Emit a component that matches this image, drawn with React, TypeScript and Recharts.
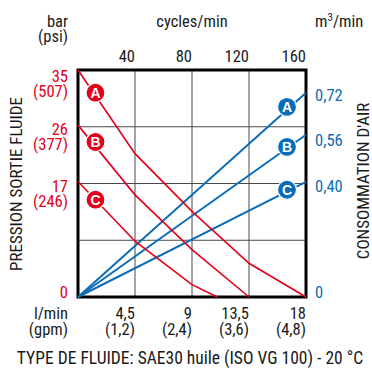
import React from "react";
import {
  LineChart,
  Line,
  XAxis,
  YAxis,
  CartesianGrid,
  ReferenceArea,
  ReferenceDot,
} from "recharts";

const RED = "#e2001a";
const BLUE = "#0b6db7";
const INK = "#1a1a1a";
const FONT = "'Liberation Sans Narrow', 'Arial Narrow', 'Roboto Condensed', sans-serif";

// bottom axis: l/min (gpm)
const flowTicks = [4.5, 9, 13.5, 18];
const flowLabels = ["4,5", "9", "13,5", "18"];
const gpmLabels = ["(1,2)", "(2,4)", "(3,6)", "(4,8)"];
// top axis: cycles/min
const cycleRange = [0, 160];
const cycleTicks = [40, 80, 120, 160];
// left axis: bar (psi)
const pressureTicks = [0, 8.75, 17.5, 26.25, 35];
const barLabels = ["0", "", "17", "26", "35"];
const psiLabels = ["", "", "(246)", "(377)", "(507)"];
// right axis: m3/min
const airTicks = [0, 0.4, 0.56, 0.72];
const airLabels = ["0", "0,40", "0,56", "0,72"];

// fluid pressure curves (bar vs l/min)
const redAFlow = [0, 4.5, 9, 13.5, 18];
const redABar = [35, 22.1, 13.2, 5.2, 0];
const redBFlow = [0, 4.5, 9, 13.5];
const redBBar = [26.5, 15.75, 7.3, 0];
const redCFlow = [0, 4.5, 9, 11];
const redCBar = [17.8, 8.6, 1.9, 0];

// air consumption (m3/min vs l/min)
const airFlow = [0, 18];
const airA = [0, 0.72];
const airB = [0, 0.572];
const airC = [0, 0.406];

const letters = ["A", "B", "C"];
const redMarkFlow = 1.38;
const redMarkBar = [31.5, 23.9, 15.0];
const blueMarkFlow = 16.5;
const blueMarkAir = [0.67, 0.529, 0.378];

const zip = (xs: number[], ys: number[]) => xs.map((x, i) => ({ flow: x, v: ys[i] }));

function PressureTick({ x, y, payload }: any) {
  const i = pressureTicks.indexOf(payload.value);
  if (i < 0 || !barLabels[i]) return null;
  const dy = payload.value === 0 ? 1 : payload.value === 35 ? 12 : 8;
  return (
    <g fontFamily={FONT} fontSize={16.5} fill={RED}>
      <text x={x} y={y + dy} textAnchor="end">{barLabels[i]}</text>
      {psiLabels[i] && (
        <text x={x} y={y + dy + 15} textAnchor="end">{psiLabels[i]}</text>
      )}
    </g>
  );
}

function AirTick({ x, y, payload }: any) {
  const i = airTicks.indexOf(payload.value);
  if (i < 0) return null;
  const dy = payload.value === 0 ? 1 : 8;
  return (
    <text x={x} y={y + dy} textAnchor="start" fontFamily={FONT} fontSize={16.5} fill={BLUE}>
      {airLabels[i]}
    </text>
  );
}

function FlowTick({ x, y, payload }: any) {
  const i = flowTicks.indexOf(payload.value);
  if (i < 0) return null;
  return (
    <g fontFamily={FONT} fontSize={16.5} fill={INK}>
      <text x={x} y={y + 22} textAnchor="end">{flowLabels[i]}</text>
      <text x={x} y={y + 38} textAnchor="end">{gpmLabels[i]}</text>
    </g>
  );
}

function CycleTick({ x, y, payload }: any) {
  if (!cycleTicks.includes(payload.value)) return null;
  return (
    <text x={x} y={y} textAnchor="end" fontFamily={FONT} fontSize={16.5} fill={INK}>
      {payload.value}
    </text>
  );
}

function marker(color: string, letter: string) {
  return ({ cx, cy }: any) => (
    <g>
      <circle cx={cx} cy={cy} r={9.5} fill={color} stroke="#fff" strokeWidth={1.2} />
      <text
        x={cx}
        y={cy + 5}
        textAnchor="middle"
        fontFamily="'Liberation Sans', Arial, sans-serif"
        fontWeight="bold"
        fontSize={14}
        fill="#fff"
      >
        {letter}
      </text>
    </g>
  );
}

export default function App() {
  return (
    <div style={{ position: "absolute", left: 0, top: 0, width: 372, height: 368, background: "#fff" }}>
      <LineChart width={372} height={368} margin={{ top: 40, right: 0, bottom: 31, left: 0 }}>
        <CartesianGrid
          stroke="#4a4a4a"
          strokeWidth={1}
          horizontalValues={pressureTicks}
          verticalValues={flowTicks}
        />
        <XAxis
          dataKey="flow"
          type="number"
          domain={[0, 18]}
          ticks={flowTicks}
          height={40}
          axisLine={false}
          tickLine={false}
          tickSize={0}
          tickMargin={0}
          tick={<FlowTick />}
          allowDuplicatedCategory={false}
        />
        <XAxis
          xAxisId="cyc"
          dataKey="cyc"
          orientation="top"
          type="number"
          domain={[0, 160]}
          ticks={cycleTicks}
          height={30}
          axisLine={false}
          tickLine={false}
          tickSize={0}
          tickMargin={8}
          tick={<CycleTick />}
        />
        <YAxis
          type="number"
          domain={[0, 35]}
          ticks={pressureTicks}
          width={78}
          axisLine={false}
          tickLine={false}
          tickSize={0}
          tickMargin={10}
          tick={<PressureTick />}
        />
        <YAxis
          yAxisId="air"
          orientation="right"
          type="number"
          domain={[0, 0.8]}
          ticks={airTicks}
          width={66}
          axisLine={false}
          tickLine={false}
          tickSize={0}
          tickMargin={9}
          tick={<AirTick />}
        />
        {/* invisible series so the cycles/min axis gets laid out */}
        <Line
          data={cycleRange.map((c) => ({ cyc: c, v: 0 }))}
          dataKey="v"
          xAxisId="cyc"
          stroke="none"
          dot={false}
          legendType="none"
          isAnimationActive={false}
        />
        <Line data={zip(airFlow, airA)} dataKey="v" yAxisId="air" stroke={BLUE} strokeWidth={2} dot={false} isAnimationActive={false} />
        <Line data={zip(airFlow, airB)} dataKey="v" yAxisId="air" stroke={BLUE} strokeWidth={2} dot={false} isAnimationActive={false} />
        <Line data={zip(airFlow, airC)} dataKey="v" yAxisId="air" stroke={BLUE} strokeWidth={2} dot={false} isAnimationActive={false} />
        <Line data={zip(redAFlow, redABar)} dataKey="v" stroke={RED} strokeWidth={1.6} dot={false} isAnimationActive={false} />
        <Line data={zip(redBFlow, redBBar)} dataKey="v" stroke={RED} strokeWidth={1.6} dot={false} isAnimationActive={false} />
        <Line data={zip(redCFlow, redCBar)} dataKey="v" stroke={RED} strokeWidth={1.6} dot={false} isAnimationActive={false} />
        <ReferenceArea x1={0} x2={18} y1={0} y2={35} fill="none" fillOpacity={0} stroke="#000" strokeWidth={3} ifOverflow="visible" />
        {letters.map((l, i) => (
          <ReferenceDot key={"r" + l} x={redMarkFlow} y={redMarkBar[i]} r={9.5} shape={marker(RED, l)} ifOverflow="visible" />
        ))}
        {letters.map((l, i) => (
          <ReferenceDot key={"b" + l} x={blueMarkFlow} y={blueMarkAir[i]} yAxisId="air" r={9.5} shape={marker(BLUE, l)} ifOverflow="visible" />
        ))}
      </LineChart>
      <svg
        width={372}
        height={368}
        style={{ position: "absolute", left: 0, top: 0, pointerEvents: "none" }}
        fontFamily={FONT}
        fontSize={16.5}
        fill={INK}
      >
        <text x={68} y={27} textAnchor="end">bar</text>
        <text x={68} y={42} textAnchor="end">(psi)</text>
        <text x={192} y={27} textAnchor="middle">cycles/min</text>
        <text x={315} y={27}>
          m<tspan fontSize={11} dy={-6}>3</tspan><tspan dy={6}>/min</tspan>
        </text>
        <text x={68} y={319} textAnchor="end">l/min</text>
        <text x={68} y={335} textAnchor="end">(gpm)</text>
        <text transform="translate(22,184) rotate(-90)" textAnchor="middle" fontSize={17}>
          PRESSION SORTIE FLUIDE
        </text>
        <text transform="translate(369,181) rotate(-90)" textAnchor="middle" fontSize={17}>
          CONSOMMATION D'AIR
        </text>
        <text x={190} y={364} textAnchor="middle" fontSize={17.5}>
          TYPE DE FLUIDE: SAE30 huile (ISO VG 100) - 20 °C
        </text>
      </svg>
    </div>
  );
}
